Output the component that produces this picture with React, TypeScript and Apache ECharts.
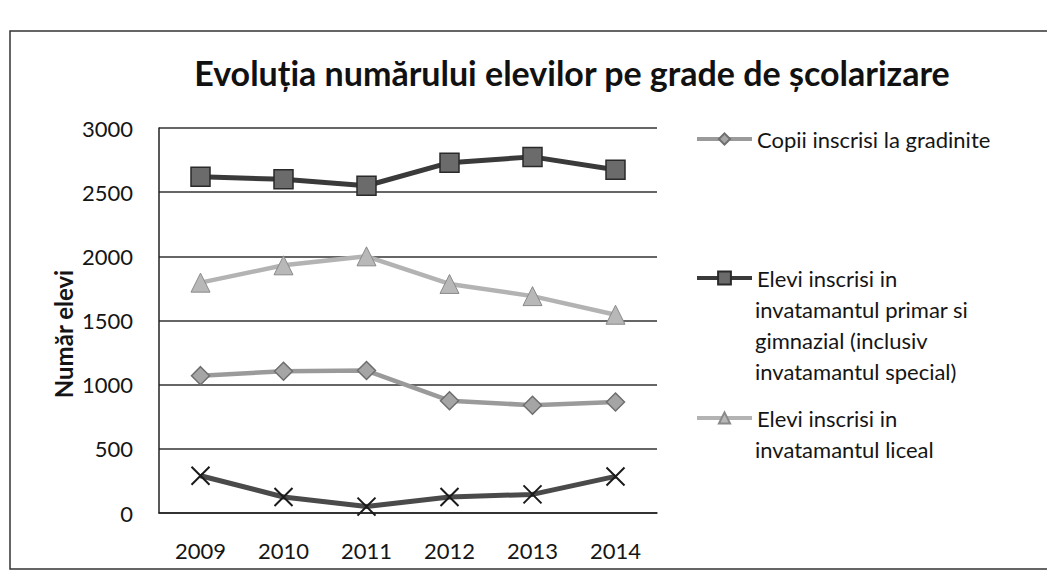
import React, { useEffect, useRef } from "react";
import * as echarts from "echarts";

const years = ["2009", "2010", "2011", "2012", "2013", "2014"];
const gradinite = [1070, 1105, 1110, 875, 840, 865];
const primar = [2620, 2600, 2550, 2730, 2775, 2675];
const liceal = [1795, 1930, 2000, 1785, 1690, 1545];
const profesional = [290, 125, 50, 125, 145, 285];

const nameGradinite = "Copii inscrisi la gradinite";
const namePrimar = "Elevi inscrisi in";
const nameLiceal = "Elevi inscrisi in ";
const primarExtra = ["invatamantul primar si", "gimnazial (inclusiv", "invatamantul special)"];
const licealExtra = ["invatamantul liceal"];
const yAxisTitle = "Număr elevi";

const FONT = "Lato, 'Open Sans', sans-serif";
const LFS = 22;

export default function App() {
  const ref = useRef<HTMLDivElement>(null);
  useEffect(() => {
    if (!ref.current) return;
    const chart = echarts.init(ref.current, null, { renderer: "svg" });
    const legendText = { fontFamily: FONT, fontSize: LFS, color: "#151515", lineHeight: 24 };
    const extraTexts: any[] = [];
    const primarY = [309, 340, 371];
    primarExtra.forEach((t, i) =>
      extraTexts.push({
        type: "text",
        x: 755,
        y: primarY[i],
        style: { text: t, font: `${LFS}px ${FONT}`, fill: "#151515", verticalAlign: "middle" },
      })
    );
    licealExtra.forEach((t, i) =>
      extraTexts.push({
        type: "text",
        x: 755,
        y: 449 + i * 31,
        style: { text: t, font: `${LFS}px ${FONT}`, fill: "#151515", verticalAlign: "middle" },
      })
    );
    const legendBase = {
      left: 695,
      padding: 0,
      itemWidth: 55,
      itemGap: 0,
      textStyle: legendText,
      lineStyle: { width: 4 },
    };
    chart.setOption({
      animation: false,
      backgroundColor: "#ffffff",
      title: {
        text: "Evoluția numărului elevilor pe grade de școlarizare",
        left: 567,
        top: 50,
        textAlign: "center",
        textStyle: { fontFamily: FONT, fontSize: 34, fontWeight: "bold", color: "#111" },
      },
      graphic: [
        {
          type: "rect",
          shape: { x: 10, y: 31, width: 1050, height: 538 },
          style: { fill: "none", stroke: "#333", lineWidth: 1.5 },
          silent: true,
        },
        {
          type: "text",
          x: 63,
          y: 334,
          rotation: Math.PI / 2,
          style: {
            text: yAxisTitle,
            font: `bold 24px ${FONT}`,
            fill: "#151515",
            align: "center",
            verticalAlign: "middle",
          },
        },
        ...extraTexts,
      ],
      legend: [
        { ...legendBase, data: [nameGradinite], top: 127, itemHeight: 14 },
        { ...legendBase, data: [namePrimar], top: 266, itemHeight: 16 },
        { ...legendBase, data: [nameLiceal], top: 406, itemHeight: 14 },
      ],
      grid: { left: 159, right: 390, top: 128, bottom: 72 },
      xAxis: {
        type: "category",
        data: years,
        boundaryGap: true,
        axisLine: { lineStyle: { color: "#222", width: 1.5 } },
        axisTick: { show: false },
        axisLabel: { fontFamily: FONT, fontSize: 22, color: "#151515", margin: 26 },
      },
      yAxis: {
        type: "value",
        min: 0,
        max: 3000,
        interval: 500,
        axisLine: { show: true, lineStyle: { color: "#222", width: 1.5 } },
        axisTick: { show: false },
        axisLabel: {
          fontFamily: FONT,
          fontSize: 22,
          color: "#151515",
          margin: 26,
          formatter: (v: number) => String(v),
        },
        splitLine: { lineStyle: { color: "#333", width: 1.5 } },
      },
      series: [
        {
          name: nameGradinite,
          type: "line",
          data: gradinite,
          symbol: "diamond",
          symbolSize: 18,
          lineStyle: { color: "#9a9a9a", width: 4.5 },
          itemStyle: { color: "#a5a5a5", borderColor: "#6e6e6e", borderWidth: 1.5 },
        },
        {
          name: namePrimar,
          type: "line",
          data: primar,
          symbol: "rect",
          symbolSize: 19,
          lineStyle: { color: "#3a3a3a", width: 5 },
          itemStyle: { color: "#6b6b6b", borderColor: "#2a2a2a", borderWidth: 1.5 },
        },
        {
          name: nameLiceal,
          type: "line",
          data: liceal,
          symbol: "triangle",
          symbolSize: 19,
          lineStyle: { color: "#b3b3b3", width: 4.5 },
          itemStyle: { color: "#b8b8b8", borderColor: "#8a8a8a", borderWidth: 1 },
        },
        {
          name: "Elevi inscrisi in invatamantul profesional",
          type: "line",
          data: profesional,
          symbol: "path://M0,0 L10,10 M10,0 L0,10",
          symbolSize: 18,
          lineStyle: { color: "#4a4a4a", width: 5 },
          itemStyle: { color: "none", borderColor: "#1a1a1a", borderWidth: 2 },
        },
      ],
    });
    return () => chart.dispose();
  }, []);
  return (
    <div
      ref={ref}
      style={{ position: "fixed", left: 0, top: 0, width: 1047, height: 585, background: "#fff" }}
    />
  );
}
